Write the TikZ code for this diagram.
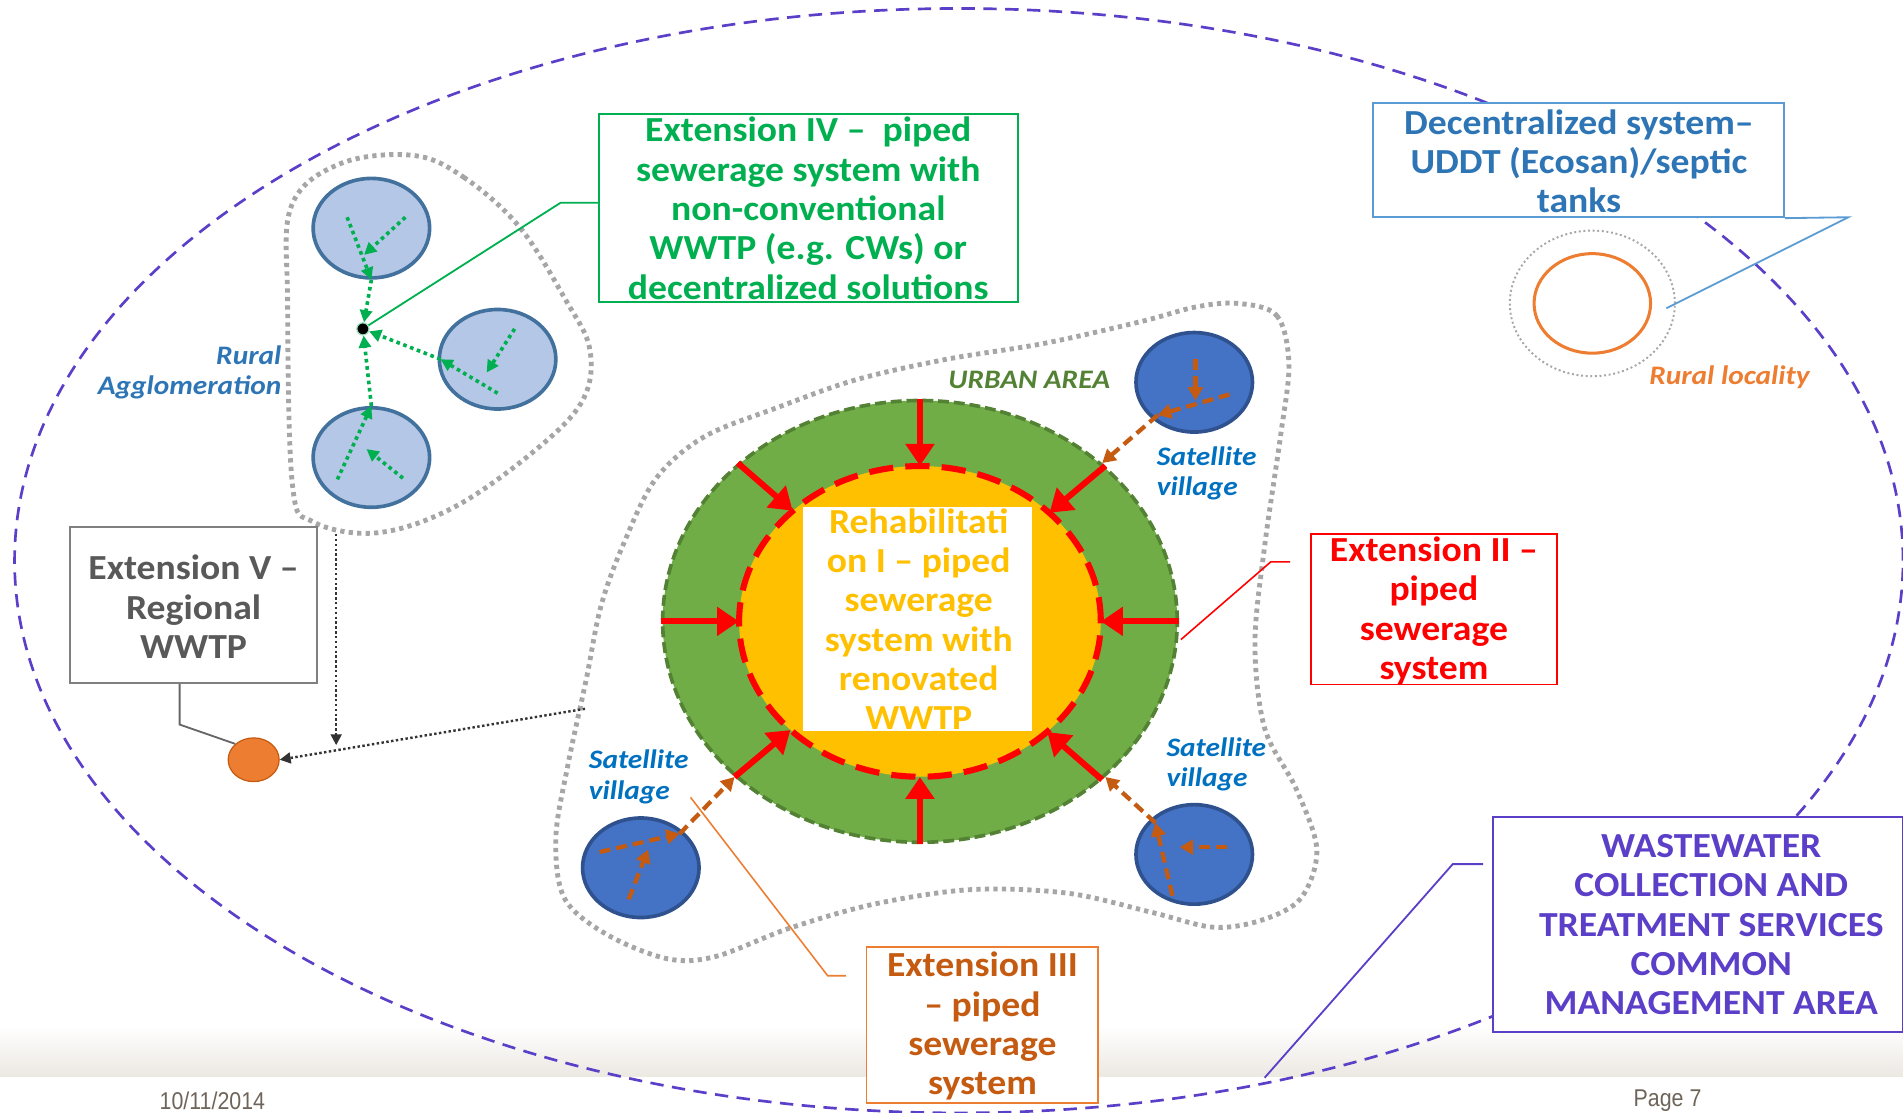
\documentclass[tikz,border=0pt]{standalone}
\usepackage{fontspec}
\setmainfont{Carlito}
\newfontfamily\boxfont[FakeStretch=1.07]{Carlito}
\newfontfamily\labfont[FakeStretch=1.1]{Carlito}
\newfontfamily\footfont[FakeStretch=0.88]{Liberation Sans}
\usetikzlibrary{arrows.meta,shapes.geometric}
\definecolor{purp}{HTML}{5B3FC8}
\definecolor{gdot}{HTML}{A6A6A6}
\definecolor{lbfill}{HTML}{B4C7E7}
\definecolor{lbline}{HTML}{41719C}
\definecolor{satfill}{HTML}{4472C4}
\definecolor{satline}{HTML}{2F528F}
\definecolor{grn}{HTML}{00B050}
\definecolor{urbg}{HTML}{70AD47}
\definecolor{urbd}{HTML}{548235}
\definecolor{yel}{HTML}{FFC000}
\definecolor{red0}{HTML}{FF0000}
\definecolor{org}{HTML}{ED7D31}
\definecolor{brn}{HTML}{C55A11}
\definecolor{bltxt}{HTML}{2E75B6}
\definecolor{bline}{HTML}{5B9BD5}
\definecolor{sattxt}{HTML}{0070C0}
\definecolor{dgray}{HTML}{595959}
\definecolor{ftxt}{HTML}{6E6459}
\definecolor{fband}{HTML}{ECE8E2}
\begin{document}
\begin{tikzpicture}[x=1pt,y=-1pt,
  graydot/.style={draw=gdot,line width=4pt,dash pattern=on 3.5pt off 3.5pt},
  lbcirc/.style={ellipse,draw=lbline,fill=lbfill,line width=3pt,minimum width=96pt,minimum height=82pt,inner sep=0pt},
  satcirc/.style={ellipse,draw=satline,fill=satfill,line width=3pt,minimum width=96pt,minimum height=82pt,inner sep=0pt},
  garrow/.style={draw=grn,line width=3pt,dash pattern=on 3pt off 3pt,-{Triangle[length=10pt,width=10pt]}},
  oarrow/.style={draw=brn,line width=3.5pt,dash pattern=on 9pt off 5pt,-{Triangle[length=11pt,width=12pt]}},
  rarrow/.style={draw=red0,line width=5pt,-{Triangle[length=18pt,width=23pt]}},
  karrow/.style={draw=black!80,line width=2pt,dash pattern=on 2pt off 2pt,-{Triangle[length=9pt,width=9pt]}},
  boxframe/.style={rectangle,fill=white,line width=1.5pt,inner sep=0pt},
  boxtxt/.style={font=\boxfont\bfseries\fontsize{29}{32.4}\selectfont,align=center,inner sep=0pt},
  lab/.style={font=\labfont\bfseries\itshape\fontsize{22}{25}\selectfont,inner sep=0pt},
  foot/.style={font=\footfont\fontsize{20}{22}\selectfont,text=ftxt,inner sep=0pt}]
\useasboundingbox (0,0) rectangle (1568,917);
\clip (0,0) rectangle (1568,917);
% footer band
\shade[top color=white,bottom color=fband] (0,845) rectangle (1568,887);
% outer management area
\draw[purp,line width=2.2pt,dash pattern=on 11pt off 7pt] (790,462) ellipse [x radius=778pt,y radius=455pt];
% rural agglomeration blob
\draw[graydot] plot[smooth cycle,tension=0.6] coordinates {(340,128) (382,146) (428,187) (466,247) (486,288) (480,330) (441,371) (374,418) (311,439) (258,430) (241,400) (237,250) (240,170) (280,135)};
% urban blob
\draw[graydot] plot[smooth cycle,tension=0.55] coordinates {(1020,250) (1052,260) (1062,300) (1055,360) (1042,450) (1034,530) (1042,600) (1068,650) (1085,700) (1072,740) (1040,758) (1000,764) (950,752) (880,736) (800,733) (720,745) (650,765) (590,788) (550,790) (500,770) (465,740) (458,690) (468,630) (483,560) (495,500) (513,450) (540,395) (580,360) (640,336) (705,313) (780,296) (860,283) (940,265) (985,253)};
% rural locality
\draw[gdot,line width=1.6pt,dash pattern=on 1.6pt off 2.2pt] (1312,250) ellipse [x radius=68pt,y radius=60pt];
\node[ellipse,draw=org,line width=2.5pt,minimum width=96pt,minimum height=82pt,inner sep=0pt] (loc) at (1312,250) {};
\node[lab,text=org] (loclab) at (1425,311) {Rural locality};
% rural agglomeration circles
\node[lbcirc] (c1) at (306,188) {};
\node[lbcirc] (c2) at (410,296) {};
\node[lbcirc] (c3) at (306,377) {};
\node[circle,fill=black,draw=grn!40,line width=1pt,minimum size=10pt,inner sep=0pt] (hub) at (299,271) {};
\draw[garrow] (286,179) -- (c1.south);
\draw[garrow] (334,179) -- (300,210);
\draw[garrow] (c1.south) -- (hub);
\draw[garrow] (424,271) -- (401,307);
\draw[garrow] (410,324) -- (363,296);
\draw[garrow] (363,296) -- (hub);
\draw[garrow] (278,395) -- (c3.north);
\draw[garrow] (332,394) -- (302,370);
\draw[garrow] (c3.north) -- (hub);
\node[lab,text=bltxt,align=right,anchor=east] (rurallab) at (232,307) {Rural\\Agglomeration};
% urban area
\node[ellipse,fill=urbg,draw=urbd,line width=3pt,dash pattern=on 9pt off 4pt,minimum width=424pt,minimum height=364pt,inner sep=0pt] (urban) at (758,512) {};
\node[ellipse,fill=yel,minimum width=298pt,minimum height=256pt,inner sep=0pt] (core) at (758,512) {};
\node[rectangle,fill=white,minimum width=188pt,minimum height=184pt,inner sep=0pt] (rehabbox) at (756,510) {};
\draw[red0,line width=5pt,dash pattern=on 20pt off 10pt] (758,512) ellipse [x radius=149pt,y radius=128pt];
\node[boxtxt,text=yel] (rehab) at (757,510) {Rehabilitati\\on I – piped\\sewerage\\system with\\renovated\\WWTP};
\draw[rarrow] (urban.north) -- (core.north);
\draw[rarrow] (urban.south) -- (core.south);
\draw[rarrow] (urban.west) -- (core.west);
\draw[rarrow] (urban.east) -- (core.east);
\draw[rarrow] (urban.139.5) -- (core.139.5);
\draw[rarrow] (urban.40.5) -- (core.40.5);
\draw[rarrow] (urban.220.5) -- (core.220.5);
\draw[rarrow] (urban.319.5) -- (core.319.5);
\node[lab,text=urbd] (urblab) at (848,313) {URBAN AREA};
% satellite villages
\node[satcirc] (s1) at (984,315) {};
\node[satcirc] (s2) at (528,715) {};
\node[satcirc] (s3) at (984,704) {};
\draw[oarrow] (985,296) -- (985,330);
\draw[oarrow] (1013,325) -- (954,342);
\draw[oarrow] (954,342) -- (urban.41);
\draw[oarrow] (494,702) -- (560,687);
\draw[oarrow] (518,741) -- (534,700);
\draw[oarrow] (560,687) -- (urban.220);
\draw[oarrow] (966,738) -- (952,678);
\draw[oarrow] (1011,698) -- (972,698);
\draw[oarrow] (952,678) -- (urban.320);
\node[lab,text=sattxt,align=left,anchor=west] (sl1) at (953,390) {Satellite\\village};
\node[lab,text=sattxt,align=left,anchor=west] (sl2) at (485,640) {Satellite\\village};
\node[lab,text=sattxt,align=left,anchor=west] (sl3) at (961,630) {Satellite\\village};
% regional WWTP
\node[ellipse,fill=org,draw=brn,line width=1pt,minimum width=42pt,minimum height=36pt,inner sep=0pt] (reg) at (209,626) {};
\coordinate (vtop) at (277,440);
\coordinate (htop) at (482,584);
\draw[karrow] (vtop) -- (277,614);
\draw[karrow] (htop) -- (reg.east);
% Extension IV box
\node[boxframe,draw=grn,minimum width=345pt,minimum height=155pt] (ext4) at (666,171.5) {};
\node[boxtxt,text=grn] (ext4t) at (ext4.center) {Extension IV –~ piped\\sewerage system with\\non-conventional\\WWTP (e.g. CWs) or\\decentralized solutions};
\coordinate (k4) at (462,167);
\draw[grn,line width=1.5pt] (hub) -- (k4) -- (k4 -| ext4.west);
% Extension V box
\node[boxframe,draw=black!50,minimum width=203pt,minimum height=129pt] (ext5) at (159.5,498.5) {};
\node[boxtxt,text=dgray] (ext5t) at (159.5,500) {Extension V –\\Regional\\WWTP};
\coordinate (k5) at (148,597);
\draw[black!60,line width=1.5pt] (148,563.75) -- (k5) -- (reg.north west);
% Extension II box
\node[boxframe,draw=red0,minimum width=203pt,minimum height=124pt] (ext2) at (1181.5,502) {};
\node[boxtxt,text=red0] (ext2t) at (1181.5,503.5) {Extension II –\\piped\\sewerage\\system};
\coordinate (k2a) at (973,527);
\coordinate (k2b) at (1047,463);
\draw[red0,line width=1.3pt] (k2a) -- (k2b) -- (1063,463);
% Extension III box
\node[boxframe,draw=org,minimum width=191pt,minimum height=129pt] (ext3) at (809.5,844.5) {};
\node[boxtxt,text=brn] (ext3t) at (809.5,845.5) {Extension III\\– piped\\sewerage\\system};
\coordinate (k3a) at (569,657);
\coordinate (k3b) at (682,804);
\draw[org,line width=1.3pt] (k3a) -- (k3b) -- (697,804);
% Decentralized box
\node[boxframe,draw=bline,minimum width=339pt,minimum height=94pt] (dec) at (1300.5,132) {};
\node[boxtxt,text=bltxt] (dect) at (1301,133) {Decentralized system–\\UDDT (Ecosan)/septic\\tanks};
\coordinate (kd) at (1523,179);
\draw[bline,line width=1.5pt] (dec.south east) -- (kd) -- (1373,254);
% Wastewater management box
\node[boxframe,draw=purp,minimum width=338pt,minimum height=177pt] (wm) at (1399,761.5) {};
\node[boxtxt,text=purp] (wmt) at (1410,762) {WASTEWATER\\COLLECTION AND\\TREATMENT SERVICES\\COMMON\\MANAGEMENT AREA};
\coordinate (kwa) at (1042,888);
\coordinate (kwb) at (1197,712);
\draw[purp,line width=1.5pt] (kwa) -- (kwb) -- (1222,712);
% footer
\node[foot] (date) at (175,907) {10/11/2014};
\node[foot] (page) at (1374,907) {Page 7};
\end{tikzpicture}
\end{document}
